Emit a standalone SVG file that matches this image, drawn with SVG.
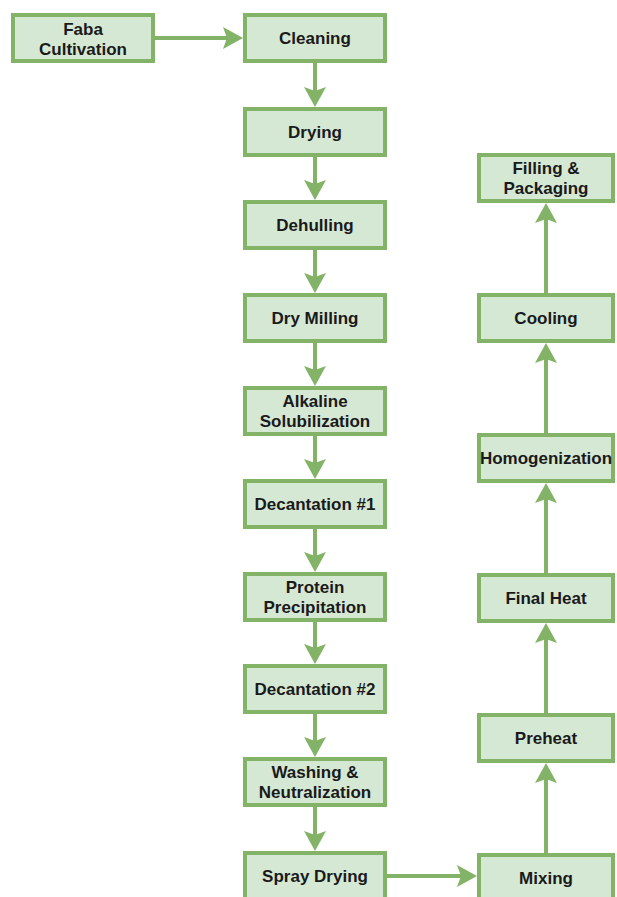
<svg xmlns="http://www.w3.org/2000/svg" width="617" height="897" viewBox="0 0 617 897">
<style>
.box{fill:#d5e8d4;stroke:#82b366;stroke-width:4}
.lbl{font-family:"Liberation Sans",Arial,sans-serif;font-weight:bold;font-size:17px;fill:#1a1a1a;text-anchor:middle}
.edge{fill:none;stroke:#82b366;stroke-width:4}
</style>
<defs>
<marker id="ah" viewBox="0 0 20 22" refX="4" refY="11" markerWidth="20" markerHeight="22" markerUnits="userSpaceOnUse" orient="auto">
<path d="M0,0 L20,11 L0,22 L4,11 z" fill="#82b366"/>
</marker>
</defs>
<rect width="617" height="897" fill="#ffffff"/>
<g id="connectors">
<path class="edge" d="M155,38 H227" marker-end="url(#ah)"/>
<path class="edge" d="M315,63 V91" marker-end="url(#ah)"/>
<path class="edge" d="M315,157 V184" marker-end="url(#ah)"/>
<path class="edge" d="M315,250 V277" marker-end="url(#ah)"/>
<path class="edge" d="M315,343 V370" marker-end="url(#ah)"/>
<path class="edge" d="M315,436 V463" marker-end="url(#ah)"/>
<path class="edge" d="M315,529 V556" marker-end="url(#ah)"/>
<path class="edge" d="M315,622 V648" marker-end="url(#ah)"/>
<path class="edge" d="M315,714 V741" marker-end="url(#ah)"/>
<path class="edge" d="M315,807 V835" marker-end="url(#ah)"/>
<path class="edge" d="M387,876 H461" marker-end="url(#ah)"/>
<path class="edge" d="M546,853 V779" marker-end="url(#ah)"/>
<path class="edge" d="M546,713 V639" marker-end="url(#ah)"/>
<path class="edge" d="M546,573 V499" marker-end="url(#ah)"/>
<path class="edge" d="M546,433 V359" marker-end="url(#ah)"/>
<path class="edge" d="M546,293 V219" marker-end="url(#ah)"/>
</g>
<g id="faba"><rect class="box" x="13" y="15" width="140" height="46"/><text class="lbl" x="83" y="35">Faba</text><text class="lbl" x="83" y="55">Cultivation</text></g>
<g id="cleaning"><rect class="box" x="245" y="15" width="140" height="46"/><text class="lbl" x="315" y="44">Cleaning</text></g>
<g id="drying"><rect class="box" x="245" y="109" width="140" height="46"/><text class="lbl" x="315" y="138">Drying</text></g>
<g id="dehulling"><rect class="box" x="245" y="202" width="140" height="46"/><text class="lbl" x="315" y="231">Dehulling</text></g>
<g id="drymilling"><rect class="box" x="245" y="295" width="140" height="46"/><text class="lbl" x="315" y="324">Dry Milling</text></g>
<g id="alkaline"><rect class="box" x="245" y="388" width="140" height="46"/><text class="lbl" x="315" y="407">Alkaline</text><text class="lbl" x="315" y="427">Solubilization</text></g>
<g id="decant1"><rect class="box" x="245" y="481" width="140" height="46"/><text class="lbl" x="315" y="510">Decantation #1</text></g>
<g id="protein"><rect class="box" x="245" y="574" width="140" height="46"/><text class="lbl" x="315" y="593">Protein</text><text class="lbl" x="315" y="613">Precipitation</text></g>
<g id="decant2"><rect class="box" x="245" y="666" width="140" height="46"/><text class="lbl" x="315" y="695">Decantation #2</text></g>
<g id="washing"><rect class="box" x="245" y="759" width="140" height="46"/><text class="lbl" x="315" y="778">Washing &amp;</text><text class="lbl" x="315" y="798">Neutralization</text></g>
<g id="spraydrying"><rect class="box" x="245" y="853" width="140" height="46"/><text class="lbl" x="315" y="882">Spray Drying</text></g>
<g id="mixing"><rect class="box" x="479" y="855" width="134" height="46"/><text class="lbl" x="546" y="884">Mixing</text></g>
<g id="preheat"><rect class="box" x="479" y="715" width="134" height="46"/><text class="lbl" x="546" y="744">Preheat</text></g>
<g id="finalheat"><rect class="box" x="479" y="575" width="134" height="46"/><text class="lbl" x="546" y="604">Final Heat</text></g>
<g id="homogenization"><rect class="box" x="479" y="435" width="134" height="46"/><text class="lbl" x="546" y="464">Homogenization</text></g>
<g id="cooling"><rect class="box" x="479" y="295" width="134" height="46"/><text class="lbl" x="546" y="324">Cooling</text></g>
<g id="filling"><rect class="box" x="479" y="155" width="134" height="46"/><text class="lbl" x="546" y="174">Filling &amp;</text><text class="lbl" x="546" y="194">Packaging</text></g>
</svg>
